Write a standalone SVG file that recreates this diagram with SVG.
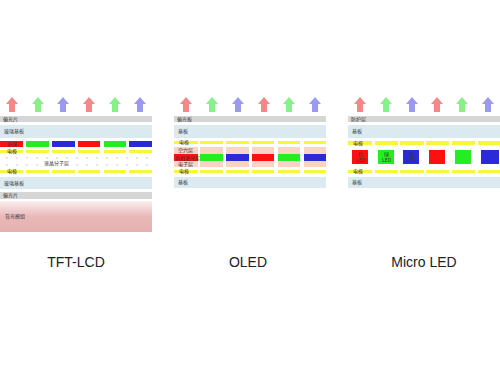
<svg xmlns="http://www.w3.org/2000/svg" width="500" height="375" viewBox="0 0 500 375">
<defs>
<style>
.g{fill:#d6d6d6}.b{fill:#dbe9f0}.y{fill:#f9f53a}.r{fill:#ff1010}.gr{fill:#22ee22}.bl{fill:#2a2ad8}.pk{fill:#f8d4c4}
.t{font-family:"Noto Sans CJK SC","Liberation Sans",sans-serif;font-size:5px;fill:#333}
.ti{font-family:"Liberation Sans",Arial,sans-serif;font-size:14px;fill:#222;text-anchor:middle}
.ar{fill:#f28888}.ag{fill:#88f088}.ab{fill:#9a9af0}
.d{fill:#bbb}
</style>
<linearGradient id="bk" x1="0" y1="0" x2="0" y2="1">
<stop offset="0" stop-color="#fbeeee"/><stop offset="0.5" stop-color="#eab8b8"/><stop offset="1" stop-color="#e6b0b0"/>
</linearGradient>
<path id="arw" d="M-6,7 L0,0 L6,7 L3,7 L3,15 L-3,15 L-3,7 Z"/>
</defs>
<g id="arrows">
<use href="#arw" x="12" y="97" class="ar"/><use href="#arw" x="38" y="97" class="ag"/><use href="#arw" x="63" y="97" class="ab"/>
<use href="#arw" x="89" y="97" class="ar"/><use href="#arw" x="115" y="97" class="ag"/><use href="#arw" x="140" y="97" class="ab"/>
<use href="#arw" x="186" y="97" class="ar"/><use href="#arw" x="212" y="97" class="ag"/><use href="#arw" x="238" y="97" class="ab"/>
<use href="#arw" x="264" y="97" class="ar"/><use href="#arw" x="289" y="97" class="ag"/><use href="#arw" x="315" y="97" class="ab"/>
<use href="#arw" x="360" y="97" class="ar"/><use href="#arw" x="386" y="97" class="ag"/><use href="#arw" x="412" y="97" class="ab"/>
<use href="#arw" x="437" y="97" class="ar"/><use href="#arw" x="462" y="97" class="ag"/><use href="#arw" x="488" y="97" class="ab"/>
</g>
<g id="tftlcd">
<rect class="g" x="0" y="116" width="152" height="6"/><text class="t" x="3" y="120.5">偏光片</text>
<rect class="b" x="0" y="125" width="152" height="13"/><text class="t" x="4" y="133">玻璃基板</text>
<rect class="r" x="0" y="141" width="23" height="6"/><rect class="gr" x="26" y="141" width="23" height="6"/><rect class="bl" x="52" y="141" width="23" height="6"/>
<rect class="r" x="78" y="141" width="22" height="6"/><rect class="gr" x="104" y="141" width="22" height="6"/><rect class="bl" x="129" y="141" width="23" height="6"/>
<text class="t" x="7" y="145.5">彩膜</text>
<rect class="y" x="0" y="150" width="23" height="3"/><rect class="y" x="26" y="150" width="23" height="3"/><rect class="y" x="52" y="150" width="23" height="3"/>
<rect class="y" x="78" y="150" width="22" height="3"/><rect class="y" x="104" y="150" width="22" height="3"/><rect class="y" x="129" y="150" width="23" height="3"/>
<text class="t" x="7" y="153">电极</text>
<g class="d">
<circle cx="7" cy="158" r="0.7"/><circle cx="17" cy="158" r="0.7"/><circle cx="27" cy="158" r="0.7"/><circle cx="37" cy="158" r="0.7"/><circle cx="47" cy="158" r="0.7"/><circle cx="57" cy="158" r="0.7"/><circle cx="67" cy="158" r="0.7"/><circle cx="77" cy="158" r="0.7"/><circle cx="87" cy="158" r="0.7"/><circle cx="97" cy="158" r="0.7"/><circle cx="107" cy="158" r="0.7"/><circle cx="117" cy="158" r="0.7"/><circle cx="127" cy="158" r="0.7"/><circle cx="137" cy="158" r="0.7"/><circle cx="147" cy="158" r="0.7"/>
<circle cx="7" cy="165" r="0.7"/><circle cx="17" cy="165" r="0.7"/><circle cx="27" cy="165" r="0.7"/><circle cx="37" cy="165" r="0.7"/><circle cx="77" cy="165" r="0.7"/><circle cx="87" cy="165" r="0.7"/><circle cx="97" cy="165" r="0.7"/><circle cx="107" cy="165" r="0.7"/><circle cx="117" cy="165" r="0.7"/><circle cx="127" cy="165" r="0.7"/><circle cx="137" cy="165" r="0.7"/><circle cx="147" cy="165" r="0.7"/>
</g>
<text class="t" x="44" y="165">液晶分子层</text>
<rect class="y" x="0" y="170" width="23" height="3"/><rect class="y" x="26" y="170" width="23" height="3"/><rect class="y" x="52" y="170" width="23" height="3"/>
<rect class="y" x="78" y="170" width="22" height="3"/><rect class="y" x="104" y="170" width="22" height="3"/><rect class="y" x="129" y="170" width="23" height="3"/>
<text class="t" x="7" y="173">电极</text>
<rect class="b" x="0" y="177" width="152" height="12"/><text class="t" x="4" y="185">玻璃基板</text>
<rect class="g" x="0" y="192" width="152" height="7"/><text class="t" x="3" y="197">偏光片</text>
<rect fill="url(#bk)" x="0" y="201" width="152" height="31"/><text class="t" x="5" y="218">背光模组</text>
</g>
<g id="oled">
<rect class="g" x="174" y="116" width="152" height="6"/><text class="t" x="177" y="120.5">偏光板</text>
<rect class="b" x="174" y="125" width="152" height="13"/><text class="t" x="178" y="133">基板</text>
<rect class="y" x="174" y="141" width="24" height="3"/><rect class="y" x="200" y="141" width="23" height="3"/><rect class="y" x="226" y="141" width="23" height="3"/>
<rect class="y" x="252" y="141" width="22" height="3"/><rect class="y" x="278" y="141" width="22" height="3"/><rect class="y" x="304" y="141" width="22" height="3"/>
<text class="t" x="179" y="144">电极</text>
<rect class="pk" x="174" y="147" width="24" height="20"/><rect class="pk" x="200" y="147" width="23" height="20"/><rect class="pk" x="226" y="147" width="23" height="20"/>
<rect class="pk" x="252" y="147" width="22" height="20"/><rect class="pk" x="278" y="147" width="22" height="20"/><rect class="pk" x="304" y="147" width="22" height="20"/>
<rect class="r" x="174" y="154" width="24" height="7"/><rect class="gr" x="200" y="154" width="23" height="7"/><rect class="bl" x="226" y="154" width="23" height="7"/>
<rect class="r" x="252" y="154" width="22" height="7"/><rect class="gr" x="278" y="154" width="22" height="7"/><rect class="bl" x="304" y="154" width="22" height="7"/>
<text class="t" x="178" y="152">空穴层</text>
<text class="t" x="175" y="159.5">有机发光层</text>
<text class="t" x="178" y="165.5">电子层</text>
<rect class="y" x="174" y="170" width="24" height="3"/><rect class="y" x="200" y="170" width="23" height="3"/><rect class="y" x="226" y="170" width="23" height="3"/>
<rect class="y" x="252" y="170" width="22" height="3"/><rect class="y" x="278" y="170" width="22" height="3"/><rect class="y" x="304" y="170" width="22" height="3"/>
<text class="t" x="179" y="173">电极</text>
<rect class="b" x="174" y="177" width="152" height="11"/><text class="t" x="178" y="184">基板</text>
</g>
<g id="microled">
<rect class="g" x="348" y="116" width="152" height="6"/><text class="t" x="351" y="120.5">防护层</text>
<rect class="b" x="348" y="125" width="152" height="13"/><text class="t" x="352" y="133">基板</text>
<rect class="y" x="348" y="141" width="24" height="4"/><rect class="y" x="375" y="141" width="23" height="4"/><rect class="y" x="400" y="141" width="24" height="4"/>
<rect class="y" x="426" y="141" width="23" height="4"/><rect class="y" x="452" y="141" width="23" height="4"/><rect class="y" x="478" y="141" width="22" height="4"/>
<text class="t" x="353" y="144.5">电极</text>
<rect class="r" x="352" y="150" width="16" height="14"/><rect class="gr" x="378" y="150" width="16" height="14"/><rect class="bl" x="403" y="150" width="16" height="14"/>
<rect class="r" x="429" y="150" width="16" height="14"/><rect class="gr" x="455" y="150" width="16" height="14"/><rect class="bl" x="481" y="150" width="18" height="14"/>
<text class="t" x="358" y="156">红</text><text class="t" x="356" y="162">LED</text>
<text class="t" x="384" y="156">绿</text><text class="t" x="382" y="162">LED</text>
<text class="t" x="409" y="156">蓝</text><text class="t" x="407" y="162">LED</text>
<rect class="y" x="348" y="170" width="24" height="3"/><rect class="y" x="375" y="170" width="23" height="3"/><rect class="y" x="400" y="170" width="24" height="3"/>
<rect class="y" x="426" y="170" width="23" height="3"/><rect class="y" x="452" y="170" width="23" height="3"/><rect class="y" x="478" y="170" width="22" height="3"/>
<text class="t" x="353" y="173">电极</text>
<rect class="b" x="348" y="177" width="152" height="11"/><text class="t" x="352" y="184">基板</text>
</g>
<g id="titles">
<text class="ti" x="76" y="267">TFT-LCD</text>
<text class="ti" x="248" y="267">OLED</text>
<text class="ti" x="424" y="267">Micro LED</text>
</g>
</svg>
